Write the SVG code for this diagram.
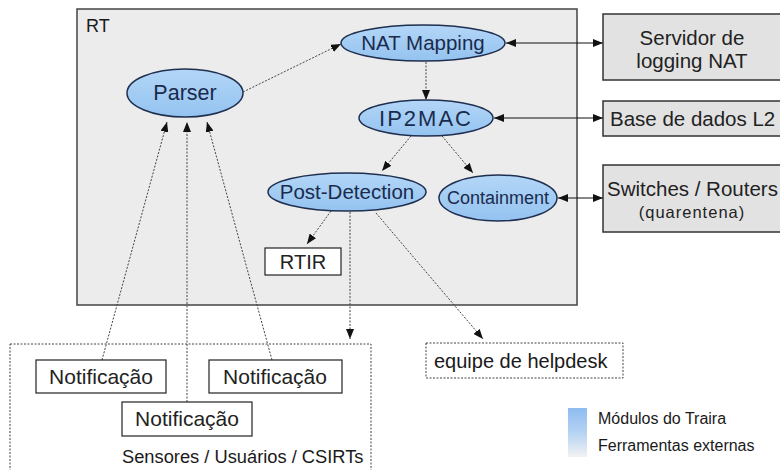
<svg xmlns="http://www.w3.org/2000/svg" width="780" height="470" viewBox="0 0 780 470">
<style>
text{font-family:"Liberation Sans",Arial,sans-serif;fill:#1a1a1a}
.mod ellipse{fill:url(#blue);stroke:#1f2f4f;stroke-width:1.5}
.mod text{fill:#1a2b4d;text-anchor:middle}
.ext rect{fill:#e2e2e2;stroke:#333;stroke-width:1.5}
.ext text{text-anchor:middle;fill:#222}
.box rect{fill:#fff;stroke:#222;stroke-width:1.2}
.box text{text-anchor:middle;fill:#222}
.dot{fill:none;stroke:#444;stroke-width:1;stroke-dasharray:2 1.5}
.sol{fill:none;stroke:#111;stroke-width:1.2}
</style>
<defs>
<linearGradient id="blue" x1="0" y1="0" x2="0" y2="1">
<stop offset="0" stop-color="#b3d6f7"/>
<stop offset="1" stop-color="#94c3f0"/>
</linearGradient>
<linearGradient id="leg" x1="0" y1="0" x2="0" y2="1">
<stop offset="0" stop-color="#8ebcf0"/>
<stop offset="0.5" stop-color="#b5d3f3"/>
<stop offset="1" stop-color="#f2f2f2"/>
</linearGradient>
<marker id="ah" viewBox="0 0 10 8" refX="10" refY="4" markerWidth="10" markerHeight="8" markerUnits="userSpaceOnUse" orient="auto-start-reverse">
<path d="M0,0 L10,4 L0,8 z" fill="#111"/>
</marker>
</defs>
<rect width="780" height="470" fill="#fff"/>

<g id="rt">
<rect x="77" y="9" width="500" height="296" fill="#ececec" stroke="#444" stroke-width="1.5"/>
<text x="86" y="32" font-size="18">RT</text>
</g>

<g id="sensores">
<rect x="10" y="344" width="361" height="128" fill="none" stroke="#444" stroke-width="1" stroke-dasharray="2 1.5"/>
<text x="122" y="463" font-size="18.3">Sensores / Usuários / CSIRTs</text>
</g>

<g id="connectors">
<line class="dot" x1="243" y1="92" x2="341" y2="44" marker-end="url(#ah)"/>
<line class="dot" x1="426" y1="62" x2="426" y2="100" marker-end="url(#ah)"/>
<line class="dot" x1="411" y1="136" x2="382" y2="171" marker-end="url(#ah)"/>
<line class="dot" x1="442" y1="136" x2="473" y2="173" marker-end="url(#ah)"/>
<line class="dot" x1="331" y1="211" x2="307" y2="244" marker-end="url(#ah)"/>
<line class="dot" x1="350" y1="212" x2="350" y2="339" marker-end="url(#ah)"/>
<line class="dot" x1="376" y1="213" x2="483" y2="339" marker-end="url(#ah)"/>
<line class="dot" x1="102" y1="360" x2="167" y2="122" marker-end="url(#ah)"/>
<line class="dot" x1="187" y1="402" x2="187" y2="122" marker-end="url(#ah)"/>
<line class="dot" x1="272" y1="360" x2="207" y2="122" marker-end="url(#ah)"/>
<line class="sol" x1="506" y1="43" x2="603" y2="43" marker-start="url(#ah)" marker-end="url(#ah)"/>
<line class="sol" x1="494" y1="118" x2="603" y2="118" marker-start="url(#ah)" marker-end="url(#ah)"/>
<line class="sol" x1="558" y1="198" x2="603" y2="198" marker-start="url(#ah)" marker-end="url(#ah)"/>
</g>

<g id="parser" class="mod">
<ellipse cx="185" cy="93" rx="58" ry="24"/>
<text x="185" y="100" font-size="21.5">Parser</text>
</g>
<g id="natmapping" class="mod">
<ellipse cx="423" cy="43" rx="82" ry="18"/>
<text x="423" y="50" font-size="20.5">NAT Mapping</text>
</g>
<g id="ip2mac" class="mod">
<ellipse cx="426" cy="118" rx="67" ry="18"/>
<text x="426" y="126" font-size="22" letter-spacing="2">IP2MAC</text>
</g>
<g id="postdetection" class="mod">
<ellipse cx="347" cy="192" rx="79" ry="19"/>
<text x="347" y="199" font-size="20.5">Post-Detection</text>
</g>
<g id="containment" class="mod">
<ellipse cx="498" cy="198" rx="59" ry="23"/>
<text x="498" y="204" font-size="18">Containment</text>
</g>

<g id="servidor" class="ext">
<rect x="603" y="14" width="190" height="66"/>
<text x="692" y="45" font-size="20.5">Servidor de</text>
<text x="692" y="68" font-size="20.5">logging NAT</text>
</g>
<g id="basedados" class="ext">
<rect x="603" y="101" width="190" height="35"/>
<text x="610" y="126" font-size="20.5" style="text-anchor:start">Base de dados L2</text>
</g>
<g id="switches" class="ext">
<rect x="603" y="165" width="190" height="67"/>
<text x="607" y="196" font-size="20.5" style="text-anchor:start">Switches / Routers</text>
<text x="692" y="218" font-size="16.5" letter-spacing="1">(quarentena)</text>
</g>

<g id="rtir" class="box">
<rect x="265" y="248" width="76" height="27"/>
<text x="303" y="269" font-size="20">RTIR</text>
</g>

<g id="notif1" class="box">
<rect x="36" y="360" width="130" height="33"/>
<text x="101" y="384" font-size="21">Notificação</text>
</g>
<g id="notif2" class="box">
<rect x="209" y="360" width="133" height="33"/>
<text x="275" y="384" font-size="21">Notificação</text>
</g>
<g id="notif3" class="box">
<rect x="122" y="402" width="130" height="34"/>
<text x="187" y="426" font-size="21">Notificação</text>
</g>

<g id="helpdesk">
<rect x="426" y="343" width="197" height="35" fill="#fff" stroke="#444" stroke-width="1" stroke-dasharray="2 1.5"/>
<text x="434" y="368" font-size="20">equipe de helpdesk</text>
</g>

<g id="legend">
<rect x="568" y="408" width="19" height="49" fill="url(#leg)"/>
<text x="598" y="424" font-size="16">Módulos do Traira</text>
<text x="598" y="451" font-size="16">Ferramentas externas</text>
</g>
</svg>
